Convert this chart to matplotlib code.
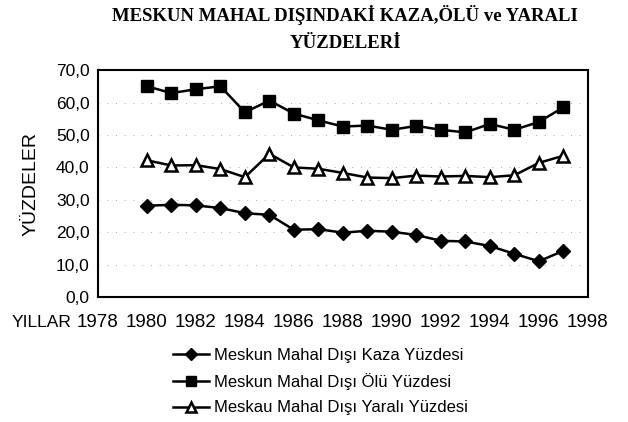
import matplotlib.pyplot as plt
import numpy as np

years = list(range(1980, 1998))
kaza = [28.2, 28.5, 28.3, 27.5, 25.9, 25.4, 20.8, 21.0, 19.9, 20.5,
        20.2, 19.2, 17.4, 17.2, 15.8, 13.4, 11.1, 14.3]
olu = [65.0, 62.9, 64.1, 65.0, 57.0, 60.6, 56.6, 54.5, 52.6, 52.9,
       51.6, 52.8, 51.6, 50.8, 53.4, 51.6, 54.0, 58.5]
yarali = [42.2, 40.6, 40.7, 39.5, 37.0, 44.2, 40.0, 39.6, 38.3, 36.9,
          36.7, 37.5, 37.2, 37.4, 37.0, 37.6, 41.4, 43.6]

labels = ['Meskun Mahal Dışı Kaza Yüzdesi',
          'Meskun Mahal Dışı Ölü Yüzdesi',
          'Meskau Mahal Dışı Yaralı Yüzdesi']
xticks = list(range(1978, 1999, 2))
yticks = list(range(0, 71, 10))

plt.rcParams['font.family'] = ['Liberation Sans', 'DejaVu Sans']

fig = plt.figure(figsize=(6.28, 4.22), dpi=100)
ax = fig.add_axes([0.156, 0.2955, 0.78, 0.5385])

ax.plot(years, kaza, color='black', lw=1.8, marker='D', ms=7.5,
        mfc='black', mec='black', label=labels[0])
ax.plot(years, olu, color='black', lw=1.8, marker='s', ms=8.5,
        mfc='black', mec='black', label=labels[1])
ax.plot(years, yarali, color='black', lw=1.8, marker='^', ms=8.5,
        mfc='white', mec='black', mew=1.8, label=labels[2])

ax.set_xlim(1978, 1998)
ax.set_ylim(0, 70)
ax.set_xticks(xticks)
ax.set_yticks(yticks)
ax.set_yticklabels([f'{v:.1f}'.replace('.', ',') for v in yticks], fontsize=12.5)
ax.set_xticklabels([str(v) for v in xticks], fontsize=13.5)
ax.tick_params(length=0, pad=6)
ax.tick_params(axis='x', pad=12)
for s in ax.spines.values():
    s.set_linewidth(1.5)
ax.grid(axis='y', color='#aaaaaa', linestyle=(0, (1, 8)), lw=0.7)

ax.set_ylabel('YÜZDELER', fontsize=14, labelpad=12)
fig.text(0.018, 0.235, 'YILLAR', fontsize=12.5, va='center')

fig.text(0.55, 0.965, 'MESKUN MAHAL DIŞINDAKİ KAZA,ÖLÜ ve YARALI',
         family='Liberation Serif', weight='bold', fontsize=13.5,
         ha='center', va='center')
fig.text(0.55, 0.898, 'YÜZDELERİ', family='Liberation Serif',
         weight='bold', fontsize=13.5, ha='center', va='center')

fig.legend(loc='upper left', bbox_to_anchor=(0.275, 0.176), frameon=False,
           fontsize=12, handlelength=2.2, handletextpad=0.3,
           labelspacing=0.62, borderaxespad=0, borderpad=0, markerscale=0.8)

fig.savefig('out.png', dpi=100)
